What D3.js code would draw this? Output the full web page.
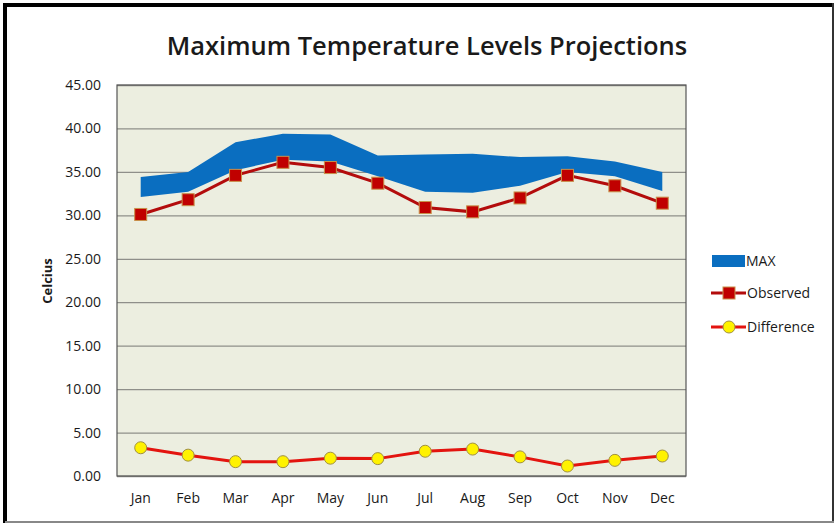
<!DOCTYPE html>
<html>
<head>
<meta charset="utf-8">
<script src="https://cdn.jsdelivr.net/npm/d3@7"></script>
<style>
  body { margin: 0; background: #fff; }
  text { font-family: "Open Sans", "Noto Sans", sans-serif; fill: #1a1a1a; }
</style>
</head>
<body>
<svg id="chart"></svg>
<script>
var months = ["Jan","Feb","Mar","Apr","May","Jun","Jul","Aug","Sep","Oct","Nov","Dec"];
var maxLow  = [32.1, 32.7, 35.2, 36.4, 36.2, 34.5, 32.7, 32.6, 33.4, 35.0, 34.5, 32.8];
var maxHigh = [34.4, 35.0, 38.4, 39.4, 39.3, 36.9, 37.0, 37.1, 36.7, 36.8, 36.2, 35.0];
var observed = [30.1, 31.8, 34.6, 36.1, 35.5, 33.7, 30.9, 30.4, 32.0, 34.6, 33.4, 31.4];
var difference = [3.25, 2.4, 1.65, 1.65, 2.05, 2.0, 2.85, 3.1, 2.2, 1.15, 1.8, 2.3];
var yTicks = [0,5,10,15,20,25,30,35,40,45];

var W = 836, H = 525;
var margin = {top: 85, right: 150, bottom: 49, left: 117};
var width = 686 - margin.left, height = 476 - margin.top;

var root = d3.select("#chart").attr("width", W).attr("height", H);

// outer frame
root.append("rect").attr("x", 1).attr("y", 1).attr("width", W - 2).attr("height", H - 2)
  .attr("fill", "#fff");
root.append("line").attr("x1", 5).attr("x2", 5).attr("y1", 3).attr("y2", 523)
  .attr("stroke", "#000").attr("stroke-width", 4);
root.append("line").attr("x1", 3).attr("x2", 834).attr("y1", 5).attr("y2", 5)
  .attr("stroke", "#000").attr("stroke-width", 4);
root.append("line").attr("x1", 833).attr("x2", 833).attr("y1", 3).attr("y2", 523)
  .attr("stroke", "#333").attr("stroke-width", 2);
root.append("line").attr("x1", 5).attr("x2", 834).attr("y1", 522).attr("y2", 522)
  .attr("stroke", "#888").attr("stroke-width", 2);

root.append("text")
  .attr("x", 427).attr("y", 55)
  .attr("text-anchor", "middle")
  .style("font-size", "25.5px").style("font-weight", "600")
  .text("Maximum Temperature Levels Projections");

var svg = root.append("g")
  .attr("transform", "translate(" + margin.left + "," + margin.top + ")");

var x = d3.scaleBand().domain(months).range([0, width]);
var y = d3.scaleLinear().domain([0, 45]).range([height, 0]);
var cx = function(i) { return x(months[i]) + x.bandwidth() / 2; };

svg.append("rect").attr("width", width).attr("height", height).attr("fill", "#ECEEE0");

svg.append("g")
  .call(d3.axisLeft(y).tickValues(yTicks).tickSize(-width).tickFormat(""))
  .call(function(g) {
    g.select(".domain").remove();
    g.selectAll("line").attr("stroke", "#8f8f8a").attr("stroke-width", 1.3);
  });

svg.append("rect").attr("width", width).attr("height", height)
  .attr("fill", "none").attr("stroke", "#555").attr("stroke-width", 1.2);

// MAX band
var band = d3.area()
  .x(function(d, i) { return cx(i); })
  .y0(function(d, i) { return y(maxLow[i]); })
  .y1(function(d, i) { return y(maxHigh[i]); });
svg.append("path").datum(months).attr("d", band).attr("fill", "#0A6EC0");

var line = function(vals) {
  return d3.line().x(function(d, i) { return cx(i); }).y(function(d) { return y(d); })(vals);
};

svg.append("path").attr("d", line(observed))
  .attr("fill", "none").attr("stroke", "#B30C0C").attr("stroke-width", 3);
svg.selectAll(".obs").data(observed).enter().append("rect")
  .attr("class", "obs")
  .attr("x", function(d, i) { return cx(i) - 6; })
  .attr("y", function(d) { return y(d) - 6; })
  .attr("width", 12).attr("height", 12)
  .attr("fill", "#C00000").attr("stroke", "#C8904A").attr("stroke-width", 1);

svg.append("path").attr("d", line(difference))
  .attr("fill", "none").attr("stroke", "#E3140F").attr("stroke-width", 3);
svg.selectAll(".diff").data(difference).enter().append("circle")
  .attr("class", "diff")
  .attr("cx", function(d, i) { return cx(i); })
  .attr("cy", function(d) { return y(d); })
  .attr("r", 6)
  .attr("fill", "#FFF200").attr("stroke", "#A09040").attr("stroke-width", 1);

// axes labels
svg.append("g")
  .call(d3.axisLeft(y).tickValues(yTicks).tickSize(0).tickPadding(16)
    .tickFormat(function(d) { return d3.format(".2f")(d); }))
  .call(function(g) {
    g.select(".domain").remove();
    g.selectAll("text").style("font-size", "14px").style("font-family", "'Open Sans', sans-serif")
      .attr("fill", "#1a1a1a");
  });

svg.append("g")
  .attr("transform", "translate(0," + height + ")")
  .call(d3.axisBottom(x).tickSize(0).tickPadding(17))
  .call(function(g) {
    g.select(".domain").remove();
    g.selectAll("text").style("font-size", "14px").style("font-family", "'Open Sans', sans-serif")
      .attr("fill", "#1a1a1a");
  });

root.append("text")
  .attr("transform", "translate(52,281) rotate(-90)")
  .attr("text-anchor", "middle")
  .style("font-size", "13px").style("font-weight", "bold")
  .text("Celcius");

// legend
var lg = root.append("g");
lg.append("rect").attr("x", 712).attr("y", 255).attr("width", 33).attr("height", 12).attr("fill", "#0A6EC0");
lg.append("text").attr("x", 746).attr("y", 266).style("font-size", "14px").text("MAX");

lg.append("line").attr("x1", 711).attr("x2", 746).attr("y1", 293).attr("y2", 293)
  .attr("stroke", "#B30C0C").attr("stroke-width", 3);
lg.append("rect").attr("x", 723).attr("y", 287).attr("width", 12).attr("height", 12)
  .attr("fill", "#C00000").attr("stroke", "#C8904A");
lg.append("text").attr("x", 747).attr("y", 298).style("font-size", "14px").text("Observed");

lg.append("line").attr("x1", 711).attr("x2", 746).attr("y1", 327).attr("y2", 327)
  .attr("stroke", "#E3140F").attr("stroke-width", 3);
lg.append("circle").attr("cx", 729).attr("cy", 327).attr("r", 6)
  .attr("fill", "#FFF200").attr("stroke", "#A09040");
lg.append("text").attr("x", 747).attr("y", 332).style("font-size", "14px").text("Difference");
</script>
</body>
</html>
